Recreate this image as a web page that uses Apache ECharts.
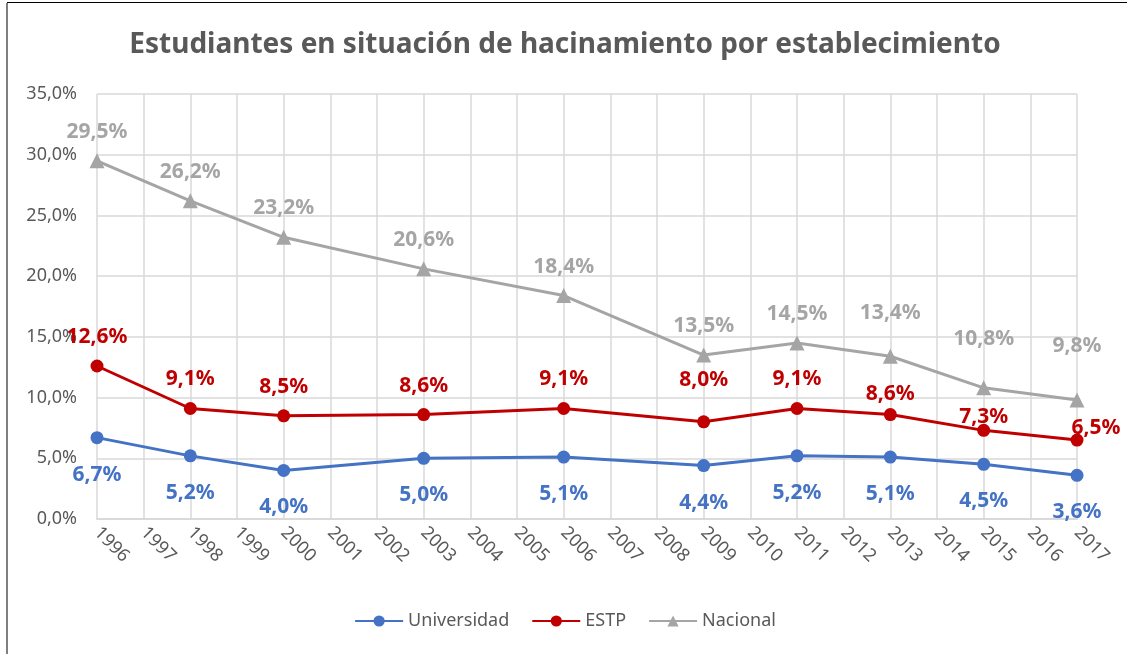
<!DOCTYPE html>
<html>
<head>
<meta charset="utf-8">
<script src="https://cdn.jsdelivr.net/npm/echarts@6/dist/echarts.min.js"></script>
<style>
  html, body { margin: 0; padding: 0; background: #fff; }
  .frame { position: relative; width: 1130px; height: 654px; }
  .chart { position: absolute; left: 0; top: 0; width: 1130px; height: 654px; }
  .edge-top { position: absolute; left: 7px; right: 3px; top: 2px; height: 1px; background: #000; }
  .edge-left { position: absolute; left: 6px; top: 3px; bottom: 0; width: 2px; background: #7f7f7f; }
</style>
</head>
<body>
<div class="frame">
  <div class="chart" id="chart"></div>
  <div class="edge-top"></div>
  <div class="edge-left"></div>
</div>
<script>
// años con dato
const years = [1996, 1998, 2000, 2003, 2006, 2009, 2011, 2013, 2015, 2017]
const universidad = [6.7, 5.2, 4.0, 5.0, 5.1, 4.4, 5.2, 5.1, 4.5, 3.6]
const estp = [12.6, 9.1, 8.5, 8.6, 9.1, 8.0, 9.1, 8.6, 7.3, 6.5]
const nacional = [29.5, 26.2, 23.2, 20.6, 18.4, 13.5, 14.5, 13.4, 10.8, 9.8]

const fmt = v => v.toFixed(1).replace('.', ',') + '%'

// etiquetas movidas a mano en el original (indice -> [dx, dy])
const shiftEstp = { 5: [0, -13], 7: [0, 8], 8: [0, 16], 9: [19, 17] }
const shiftNac = { 7: [0, -14], 8: [0, -20], 9: [0, -25] }

function pts (vals, shift) {
  return vals.map((v, i) => {
    const item = { value: [years[i], v] }
    if (shift && shift[i]) item.label = { offset: shift[i] }
    return item
  })
}

const font = 'Noto Sans'
const chart = echarts.init(document.getElementById('chart'))
chart.setOption({
  animation: false,
  title: {
    text: 'Estudiantes en situación de hacinamiento por establecimiento',
    left: 'center',
    top: 26,
    textStyle: { color: '#595959', fontSize: 28, fontWeight: 'bold', fontFamily: font }
  },
  grid: { left: 97, right: 53, top: 94, bottom: 135 },
  legend: {
    bottom: 19,
    left: 'center',
    itemWidth: 48,
    itemHeight: 14,
    itemGap: 22,
    textStyle: { color: '#595959', fontSize: 18, fontFamily: font },
    data: ['Universidad', 'ESTP', 'Nacional']
  },
  xAxis: {
    type: 'value',
    min: 1996,
    max: 2017,
    interval: 1,
    axisLine: { show: true, onZero: false, lineStyle: { color: '#d9d9d9', width: 2 } },
    axisTick: { show: false },
    splitLine: { show: true, lineStyle: { color: '#d9d9d9', width: 1.5 } },
    axisLabel: {
      rotate: -45,
      margin: 11,
      color: '#595959',
      fontSize: 18,
      fontFamily: font,
      showMinLabel: true,
      showMaxLabel: true,
      formatter: v => String(v)
    }
  },
  yAxis: {
    type: 'value',
    min: 0,
    max: 35,
    interval: 5,
    axisLine: { show: false },
    axisTick: { show: false },
    splitLine: { lineStyle: { color: '#d9d9d9', width: 1.5 } },
    axisLabel: { color: '#595959', fontSize: 18, fontFamily: font, margin: 20, formatter: fmt }
  },
  series: [
    {
      name: 'Universidad',
      type: 'line',
      symbol: 'circle',
      symbolSize: 13,
      color: '#4472C4',
      lineStyle: { width: 3, color: '#4472C4' },
      label: {
        show: true, position: 'bottom', distance: 20,
        color: '#4472C4', fontSize: 21, fontWeight: 'bold', fontFamily: font,
        formatter: p => fmt(p.value[1])
      },
      data: pts(universidad)
    },
    {
      name: 'ESTP',
      type: 'line',
      symbol: 'circle',
      symbolSize: 13,
      color: '#C00000',
      lineStyle: { width: 3, color: '#C00000' },
      label: {
        show: true, position: 'top', distance: 12,
        color: '#C00000', fontSize: 21, fontWeight: 'bold', fontFamily: font,
        formatter: p => fmt(p.value[1])
      },
      data: pts(estp, shiftEstp)
    },
    {
      name: 'Nacional',
      type: 'line',
      symbol: 'triangle',
      symbolSize: 15,
      color: '#A5A5A5',
      lineStyle: { width: 3, color: '#A5A5A5' },
      label: {
        show: true, position: 'top', distance: 11,
        color: '#A5A5A5', fontSize: 21, fontWeight: 'bold', fontFamily: font,
        formatter: p => fmt(p.value[1])
      },
      data: pts(nacional, shiftNac)
    }
  ]
})
</script>
</body>
</html>
